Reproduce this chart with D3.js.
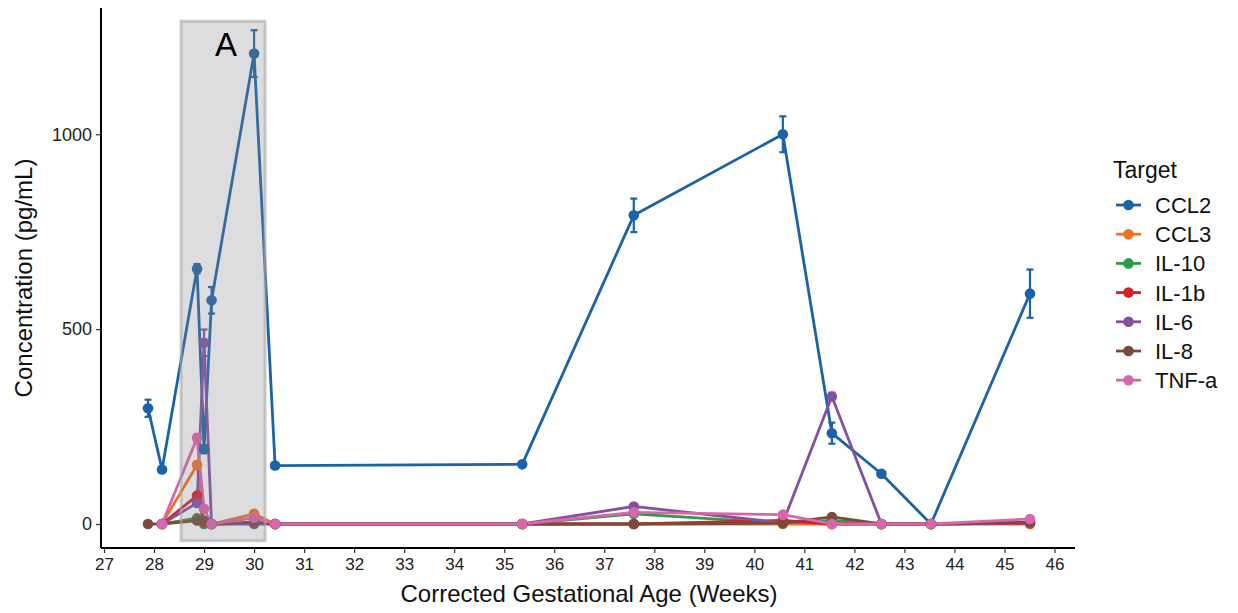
<!DOCTYPE html>
<html>
<head>
<meta charset="utf-8">
<script src="https://cdn.jsdelivr.net/npm/d3@7"></script>
<style>
  body { margin: 0; background: #fff; }
  text { font-family: "Liberation Sans", Arial, Helvetica, sans-serif; }
</style>
</head>
<body>
<svg id="chart" width="1238" height="613"></svg>
<script>
// ---- data ----
const weeks = [27.88, 28.16, 28.86, 29.00, 29.15, 30.00, 30.42, 35.36, 37.59, 40.57, 41.55, 42.54, 43.53, 45.51];
const targets = ["CCL2", "CCL3", "IL-10", "IL-1b", "IL-6", "IL-8", "TNF-a"];
const colors  = ["#1b63a9", "#f07122", "#2f9b45", "#d42027", "#8451a1", "#7b4a3a", "#d966ad"];

const ccl2  = [297, 140, 655, 192, 574, 1207, 150, 153, 792, 1000, 233, 129, 0, 591];
const ccl3  = [null, 0, 152, 5, 0, 26, 0, 0, 0, 0, 0, 0, 0, 0];
const il10  = [null, 0, 15, 0, 0, 2, 0, 0, 26, 2, 9, 0, 0, 3];
const il1b  = [null, 0, 73, 5, 0, 3, 0, 0, 0, 9, 0, 0, 0, 2];
const il6   = [null, 0, 54, 465, 0, 0, 0, 0, 45, 3, 327, 0, 0, 3];
const il8   = [0, 0, 9, 8, 0, 5, 0, 0, 0, 2, 18, 0, 0, 5];
const tnfa  = [null, 0, 221, 39, 0, 16, 0, 0, 30, 24, 0, 0, 0, 13];

const ccl2Err = [22, 6, 12, 10, 34, 60, 5, 4, 43, 46, 27, 6, 2, 62];
const ccl3Err = [null, 0, 8, 2, 0, 4, 0, 0, 0, 0, 0, 0, 0, 0];
const il10Err = [null, 0, 3, 0, 0, 1, 0, 0, 3, 1, 2, 0, 0, 1];
const il1bErr = [null, 0, 6, 2, 0, 1, 0, 0, 0, 2, 0, 0, 0, 1];
const il6Err  = [null, 0, 5, 34, 0, 0, 0, 0, 4, 1, 10, 0, 0, 1];
const il8Err  = [0, 0, 2, 2, 0, 1, 0, 0, 0, 1, 3, 0, 0, 1];
const tnfaErr = [null, 0, 10, 5, 0, 2, 0, 0, 3, 3, 0, 0, 0, 2];

const seriesValues = [ccl2, ccl3, il10, il1b, il6, il8, tnfa];
const seriesErrors = [ccl2Err, ccl3Err, il10Err, il1bErr, il6Err, il8Err, tnfaErr];

const xTicks = d3.range(27, 47);
const yTicks = [0, 500, 1000];
const highlight = { x0: 28.54, x1: 30.22, y0: -43, y1: 1290, label: "A" };

// ---- layout ----
const svg = d3.select("#chart");
const pLeft = 101, pRight = 1075, pTop = 8, pBottom = 548;
const x = d3.scaleLinear().domain([26.94, 46.41]).range([pLeft, pRight]);
const y = d3.scaleLinear().domain([-61.6, 1324]).range([pBottom, pTop]);

const series = targets.map((t, i) => ({
  name: t, color: colors[i],
  pts: weeks.map((w, j) => ({ w, v: seriesValues[i][j], e: seriesErrors[i][j] })).filter(p => p.v !== null)
}));

const line = d3.line().x(d => x(d.w)).y(d => y(d.v));

// lines
svg.append("g").selectAll("path").data(series).join("path")
  .attr("d", d => line(d.pts))
  .attr("fill", "none").attr("stroke", d => d.color)
  .attr("stroke-width", 2.8).attr("stroke-linejoin", "round");

// error bars
const eb = svg.append("g");
series.forEach(s => {
  s.pts.filter(p => p.e > 0).forEach(p => {
    const cx = x(p.w), y0 = y(p.v - p.e), y1 = y(p.v + p.e);
    eb.append("line").attr("x1", cx).attr("x2", cx).attr("y1", y0).attr("y2", y1)
      .attr("stroke", s.color).attr("stroke-width", 2.2);
    [y0, y1].forEach(yy => eb.append("line").attr("x1", cx - 3.5).attr("x2", cx + 3.5)
      .attr("y1", yy).attr("y2", yy).attr("stroke", s.color).attr("stroke-width", 2.2));
  });
});

// points
series.forEach(s => {
  svg.append("g").selectAll("circle").data(s.pts).join("circle")
    .attr("cx", d => x(d.w)).attr("cy", d => y(d.v)).attr("r", 5.3)
    .attr("fill", s.color);
});

// highlight rect
svg.append("rect")
  .attr("x", x(highlight.x0)).attr("y", y(highlight.y1))
  .attr("width", x(highlight.x1) - x(highlight.x0))
  .attr("height", y(highlight.y0) - y(highlight.y1))
  .attr("fill", "#80838a").attr("fill-opacity", 0.27)
  .attr("stroke", "#a8a8a8").attr("stroke-opacity", 0.6).attr("stroke-width", 3);
svg.append("text")
  .attr("x", (x(highlight.x0) + x(highlight.x1)) / 2 + 3).attr("y", 56)
  .attr("text-anchor", "middle").attr("font-size", 33).attr("fill", "#000")
  .text(highlight.label);

// axes
const xAxis = d3.axisBottom(x).tickValues(xTicks).tickFormat(d3.format("d")).tickSizeOuter(0).tickSize(5).tickPadding(5);
const gx = svg.append("g").attr("transform", `translate(0,${pBottom})`).call(xAxis);
gx.select(".domain").attr("stroke", "#000").attr("stroke-width", 2).attr("d", `M${pLeft},0H${pRight}`);
gx.selectAll(".tick line").attr("stroke", "#333").attr("stroke-width", 1.2);
gx.selectAll(".tick text").attr("font-size", 17).attr("fill", "#222").attr("font-family", "Liberation Sans, Arial, sans-serif");

const yAxis = d3.axisLeft(y).tickValues(yTicks).tickFormat(d3.format("d")).tickSizeOuter(0).tickSize(5).tickPadding(4);
const gy = svg.append("g").attr("transform", `translate(${pLeft},0)`).call(yAxis);
gy.select(".domain").attr("stroke", "#000").attr("stroke-width", 2).attr("d", `M0,${pTop}V${pBottom}`);
gy.selectAll(".tick line").attr("stroke", "#333").attr("stroke-width", 1.2);
gy.selectAll(".tick text").attr("font-size", 18).attr("fill", "#222").attr("font-family", "Liberation Sans, Arial, sans-serif");

// axis titles
svg.append("text").attr("x", 589).attr("y", 602)
  .attr("text-anchor", "middle").attr("font-size", 24).attr("fill", "#111")
  .text("Corrected Gestational Age (Weeks)");
svg.append("text").attr("transform", `translate(32,278) rotate(-90)`)
  .attr("text-anchor", "middle").attr("font-size", 24).attr("fill", "#111")
  .text("Concentration (pg/mL)");

// legend
const lg = svg.append("g").attr("transform", "translate(1114,0)");
lg.append("text").attr("x", -1).attr("y", 178).attr("font-size", 23).attr("fill", "#111").text("Target");
series.forEach((s, i) => {
  const yy = 205 + i * 29.2;
  lg.append("line").attr("x1", 2).attr("x2", 27).attr("y1", yy).attr("y2", yy)
    .attr("stroke", s.color).attr("stroke-width", 2.8);
  lg.append("circle").attr("cx", 14.5).attr("cy", yy).attr("r", 5.3).attr("fill", s.color);
  lg.append("text").attr("x", 41).attr("y", yy + 8).attr("font-size", 22).attr("fill", "#111").text(s.name);
});
</script>
</body>
</html>
